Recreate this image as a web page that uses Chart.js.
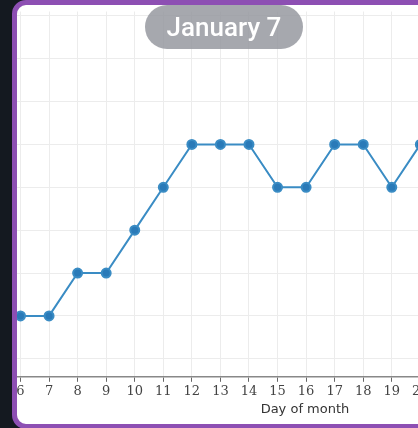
<!DOCTYPE html>
<html>
<head>
<meta charset="utf-8">
<script src="https://cdn.jsdelivr.net/npm/chart.js@4"></script>
<style>
  html, body { margin: 0; padding: 0; width: 418px; height: 428px; overflow: hidden; background: #141920; }
  #frame { position: absolute; left: 12px; top: 0px; width: 440px; height: 419px; border: 5px solid #8d4fb3; border-radius: 14px; background: #fff; overflow: hidden; }
  #wrap { position: absolute; left: -7px; top: 0px; width: 592px; height: 414px; }
  #pill { position: absolute; left: 145px; top: 5px; width: 158px; height: 44px; border-radius: 22px; background: rgba(150,153,160,0.85);
          color: #fff; font: 500 26px Roboto, sans-serif; text-align: center; line-height: 44px; }
</style>
</head>
<body>
<div id="frame"><div id="wrap"><canvas id="c"></canvas></div></div>
<div id="pill">January 7</div>
<script>
// jour du mois et valeurs
const days = [6, 7, 8, 9, 10, 11, 12, 13, 14, 15, 16, 17, 18, 19, 20];
const values = [1, 1, 2, 2, 3, 4, 5, 5, 5, 4, 4, 5, 5, 4, 5];
const xTicks = [6, 7, 8, 9, 10, 11, 12, 13, 14, 15, 16, 17, 18, 19, 20, 21, 22, 23, 24, 25, 26];

new Chart(document.getElementById('c'), {
    type: 'line',
    data: {
        datasets: [{
            data: days.map((d, i) => ({ x: d, y: values[i] })),
            borderColor: '#3a8cc4',
            backgroundColor: '#2a7ab8',
            borderWidth: 2,
            pointRadius: 4.5,
            tension: 0
        }]
    },
    options: {
        responsive: true,
        maintainAspectRatio: false,
        animation: false,
        layout: { padding: { top: 0, bottom: 2 } },
        plugins: { legend: { display: false }, tooltip: { enabled: false } },
        scales: {
            x: {
                type: 'linear',
                min: 5.86, max: 26.06,
                afterBuildTicks: axis => { axis.ticks = xTicks.map(v => ({ value: v })); },
                grid: { color: '#ececec', drawTicks: true, tickLength: 5, tickColor: '#666' },
                border: { color: '#888', width: 1.5 },
                ticks: { color: '#444', font: { family: 'DejaVu Serif', size: 13 }, padding: 2, maxRotation: 0, autoSkip: false },
                title: { display: true, text: 'Day of month', color: '#333', font: { family: 'DejaVu Sans', size: 13 }, padding: 0 }
            },
            y: {
                min: -0.42, max: 8.1,
                afterBuildTicks: axis => { axis.ticks = [0, 1, 2, 3, 4, 5, 6, 7, 8].map(v => ({ value: v })); },
                grid: { color: '#ececec', drawTicks: false },
                border: { display: false },
                ticks: { display: false }
            }
        }
    }
});
</script>
</body>
</html>
